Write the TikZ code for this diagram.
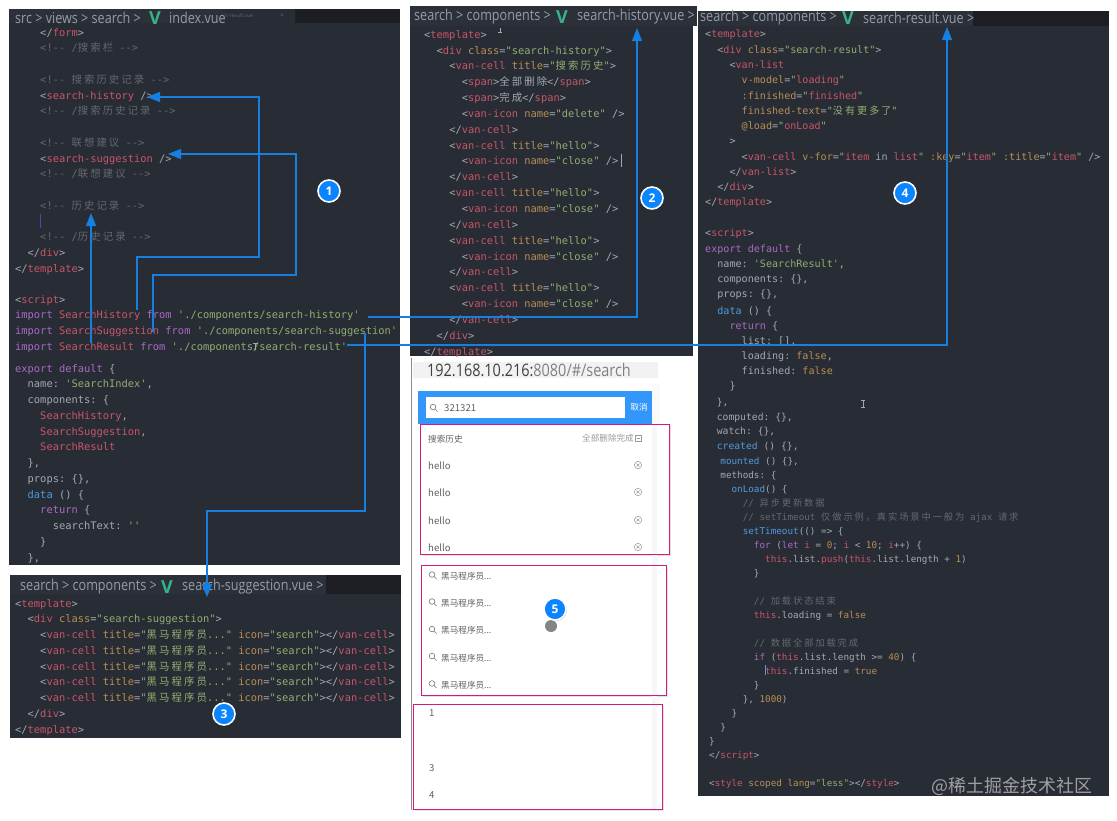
\documentclass[tikz,border=0pt]{standalone}
\usepackage{fontspec}
\usepackage{xcolor}
\usetikzlibrary{positioning,arrows.meta,shadows}

\setmainfont{Open Sans}
\newfontfamily\codefont{DejaVu Sans Mono}
\newfontfamily\barfont[FakeStretch=0.84]{Open Sans}
\newfontfamily\cjkfont[LetterSpace=20]{Noto Sans CJK SC}
\newfontfamily\uifont{Noto Sans CJK SC}

\definecolor{panelbg}{HTML}{282C34}
\definecolor{tabbg}{HTML}{2C3038}
\definecolor{tabdark}{HTML}{1C1E24}
\definecolor{codetxt}{HTML}{A3A9B3}
\definecolor{codetag}{HTML}{C9566A}
\definecolor{codestr}{HTML}{93AE72}
\definecolor{codecom}{HTML}{636872}
\definecolor{codeatt}{HTML}{B88F55}
\definecolor{codekey}{HTML}{A96BC4}
\definecolor{codefun}{HTML}{4F9BDD}
\definecolor{linkblue}{HTML}{1580E0}
\definecolor{badgeblue}{HTML}{0A84FF}
\definecolor{framepink}{HTML}{D6187F}
\definecolor{vuegreen}{HTML}{35B48A}
\definecolor{barblue}{HTML}{3296FA}

\newcommand{\ctag}[1]{\textcolor{codetag}{#1}}
\newcommand{\cstr}[1]{\textcolor{codestr}{#1}}
\newcommand{\ccom}[1]{\textcolor{codecom}{#1}}
\newcommand{\catt}[1]{\textcolor{codeatt}{#1}}
\newcommand{\ckey}[1]{\textcolor{codekey}{#1}}
\newcommand{\cfun}[1]{\textcolor{codefun}{#1}}
\newcommand{\zh}[1]{{\cjkfont #1}}
\newcommand{\ind}[1]{\hspace*{#1\fontdimen2\font}}
\newcommand{\gap}{\mbox{}}

\tikzset{
    codeblock/.style 2 args={anchor=north west, inner sep=0pt, align=left, text=codetxt,
        font=\codefont\fontsize{#1}{#2}\selectfont\frenchspacing, execute at begin node=\strut},
    crumb/.style={anchor=west, inner sep=0pt, text=codetxt!115!white, font=\barfont\fontsize{15}{15}\selectfont},
    vuelogo/.style={anchor=center, inner sep=0pt, text=vuegreen, font=\bfseries\fontsize{18}{18}\selectfont},
    link/.style={draw=linkblue, line width=1.1pt, -{Triangle[length=13pt,width=10pt]}},
    badge/.style={circle, fill=badgeblue, draw=white, line width=1.6pt, text=white, inner sep=0pt,
        minimum size=22pt, font=\bfseries\fontsize{12}{12}\selectfont},
    frame/.style={draw=framepink, line width=1pt},
    pageitem/.style={anchor=west, inner sep=0pt, text=black!62, font=\uifont\fontsize{8.6}{10}\selectfont},
    pageword/.style={pageitem, font=\uifont\fontsize{9.6}{10}\selectfont},
    searchicon/.pic={\draw[black!55, line width=.6pt] (0,0) circle (2.8pt) (2,2) -- (4.6,4.6);},
    closeicon/.pic={\draw[black!40, line width=.5pt] (0,0) circle (3.7pt) (-1.5,-1.5) -- (1.5,1.5) (-1.5,1.5) -- (1.5,-1.5);}
}

\begin{document}
\begin{tikzpicture}[x=1pt, y=-1pt]
    \useasboundingbox[fill=white] (0,0) rectangle (1117,820);

    % Panels
    \fill[panelbg] (9,9) rectangle (400,565);
    \fill[tabbg] (9,9) rectangle (225,23);
    \fill[panelbg] (225,9) rectangle (295,23);
    \fill[tabdark] (295,9) rectangle (400,23);
    \fill[panelbg] (410,6) rectangle (693,356);
    \fill[tabbg] (410,6) rectangle (697,26);
    \fill[panelbg] (10,575) rectangle (401,738);
    \fill[tabbg] (10,575) rectangle (326,594);
    \fill[tabdark] (326,575) rectangle (401,594);
    \fill[panelbg] (698,11) rectangle (1109,796);
    \fill[tabbg] (698,11) rectangle (973,26);
    \fill[tabdark] (973,11) rectangle (1109,26);

    % Breadcrumbs
    \node[crumb] (bar1a) at (15,18) {src > views > search >};
    \node[vuelogo] (bar1v) at (155,18) {V};
    \node[crumb] (bar1b) at (169,18) {index.vue};
    \node[anchor=west, inner sep=0pt, text=codecom, font=\fontsize{5}{5}\selectfont] (bar1tab) at (225,16) {h-result.vue};
    \node[anchor=center, inner sep=0pt, text=codecom, font=\fontsize{6}{6}\selectfont] (bar1x) at (282,16) {×};
    \node[crumb] (bar2a) at (414,17) {search > components >};
    \node[vuelogo] (bar2v) at (562,17) {V};
    \node[crumb] (bar2b) at (577,17) {search-history.vue >};
    \node[crumb] (bar3a) at (20,587) {search > components >};
    \node[vuelogo] (bar3v) at (167,587) {V};
    \node[crumb] (bar3b) at (182,587) {search-suggestion.vue >};
    \node[crumb] (bar4a) at (700,18) {search > components >};
    \node[vuelogo] (bar4v) at (848,18) {V};
    \node[crumb] (bar4b) at (863,18) {search-result.vue >};

    % index.vue
    \node[codeblock={10.4}{15.75}] (index1) at (15,28) {%
        \ind{4}</\ctag{form}>\\
        \ccom{\ind{4}<!-- /\zh{搜索栏} -->}\\
        \gap\\
        \ccom{\ind{4}<!-- \zh{搜索历史记录} -->}\\
        \ind{4}<\ctag{search-history} />\\
        \ccom{\ind{4}<!-- /\zh{搜索历史记录} -->}\\
        \gap\\
        \ccom{\ind{4}<!-- \zh{联想建议} -->}\\
        \ind{4}<\ctag{search-suggestion} />\\
        \ccom{\ind{4}<!-- /\zh{联想建议} -->}\\
        \gap\\
        \ccom{\ind{4}<!-- \zh{历史记录} -->}\\
        \gap\\
        \ccom{\ind{4}<!-- /\zh{历史记录} -->}\\
        \ind{2}</\ctag{div}>\\
        </\ctag{template}>};
    \node[codeblock={10.4}{15.75}] (index2) at (15,295) {%
        <\ctag{script}>\\
        \ckey{import} \ctag{SearchHistory} \ckey{from} \cstr{'./components/search-history'}\\
        \ckey{import} \ctag{SearchSuggestion} \ckey{from} \cstr{'./components/search-suggestion'}\\
        \ckey{import} \ctag{SearchResult} \ckey{from} \cstr{'./components/search-result'}};
    \node[codeblock={10.4}{15.75}] (index3) at (15,364) {%
        \ckey{export} \ckey{default} \{\\
        \ind{2}name: \cstr{'SearchIndex'},\\
        \ind{2}components: \{\\
        \ind{4}\ctag{SearchHistory},\\
        \ind{4}\ctag{SearchSuggestion},\\
        \ind{4}\ctag{SearchResult}\\
        \ind{2}\},\\
        \ind{2}props: \{\},\\
        \ind{2}\cfun{data} () \{\\
        \ind{4}\ckey{return} \{\\
        \ind{6}searchText: \cstr{''}\\
        \ind{4}\}\\
        \ind{2}\},};

    % search-history.vue
    \node[codeblock={10.4}{15.85}] (history) at (424,30) {%
        <\ctag{template}>\\
        \ind{2}<\ctag{div} \catt{class}=\cstr{"search-history"}>\\
        \ind{4}<\ctag{van-cell} \catt{title}=\cstr{"\zh{搜索历史}"}>\\
        \ind{6}<\ctag{span}>\zh{全部删除}</\ctag{span}>\\
        \ind{6}<\ctag{span}>\zh{完成}</\ctag{span}>\\
        \ind{6}<\ctag{van-icon} \catt{name}=\cstr{"delete"} />\\
        \ind{4}</\ctag{van-cell}>\\
        \ind{4}<\ctag{van-cell} \catt{title}=\cstr{"hello"}>\\
        \ind{6}<\ctag{van-icon} \catt{name}=\cstr{"close"} />\\
        \ind{4}</\ctag{van-cell}>\\
        \ind{4}<\ctag{van-cell} \catt{title}=\cstr{"hello"}>\\
        \ind{6}<\ctag{van-icon} \catt{name}=\cstr{"close"} />\\
        \ind{4}</\ctag{van-cell}>\\
        \ind{4}<\ctag{van-cell} \catt{title}=\cstr{"hello"}>\\
        \ind{6}<\ctag{van-icon} \catt{name}=\cstr{"close"} />\\
        \ind{4}</\ctag{van-cell}>\\
        \ind{4}<\ctag{van-cell} \catt{title}=\cstr{"hello"}>\\
        \ind{6}<\ctag{van-icon} \catt{name}=\cstr{"close"} />\\
        \ind{4}</\ctag{van-cell}>\\
        \ind{2}</\ctag{div}>\\
        </\ctag{template}>};

    % search-suggestion.vue
    \node[codeblock={10.4}{15.75}] (suggestion) at (15,599) {%
        <\ctag{template}>\\
        \ind{2}<\ctag{div} \catt{class}=\cstr{"search-suggestion"}>\\
        \ind{4}<\ctag{van-cell} \catt{title}=\cstr{"\zh{黑马程序员}..."} \catt{icon}=\cstr{"search"}></\ctag{van-cell}>\\
        \ind{4}<\ctag{van-cell} \catt{title}=\cstr{"\zh{黑马程序员}..."} \catt{icon}=\cstr{"search"}></\ctag{van-cell}>\\
        \ind{4}<\ctag{van-cell} \catt{title}=\cstr{"\zh{黑马程序员}..."} \catt{icon}=\cstr{"search"}></\ctag{van-cell}>\\
        \ind{4}<\ctag{van-cell} \catt{title}=\cstr{"\zh{黑马程序员}..."} \catt{icon}=\cstr{"search"}></\ctag{van-cell}>\\
        \ind{4}<\ctag{van-cell} \catt{title}=\cstr{"\zh{黑马程序员}..."} \catt{icon}=\cstr{"search"}></\ctag{van-cell}>\\
        \ind{2}</\ctag{div}>\\
        </\ctag{template}>};

    % search-result.vue
    \node[codeblock={10.1}{15.27}] (result1) at (705,30) {%
        <\ctag{template}>\\
        \ind{2}<\ctag{div} \catt{class}=\cstr{"search-result"}>\\
        \ind{4}<\ctag{van-list}\\
        \ind{6}\catt{v-model}=\cstr{"}\ctag{loading}\cstr{"}\\
        \ind{6}\catt{:finished}=\cstr{"}\ctag{finished}\cstr{"}\\
        \ind{6}\catt{finished-text}=\cstr{"\zh{没有更多了}"}\\
        \ind{6}\catt{@load}=\cstr{"}\ctag{onLoad}\cstr{"}\\
        \ind{4}>\\
        \ind{6}<\ctag{van-cell} \catt{v-for}=\cstr{"}\ctag{item} in \ctag{list}\cstr{"} \catt{:key}=\cstr{"}\ctag{item}\cstr{"} \catt{:title}=\cstr{"}\ctag{item}\cstr{"} />\\
        \ind{4}</\ctag{van-list}>\\
        \ind{2}</\ctag{div}>\\
        </\ctag{template}>};
    \node[codeblock={10.1}{15.2}] (result2) at (705,229) {%
        <\ctag{script}>\\
        \ckey{export} \ckey{default} \{\\
        \ind{2}name: \cstr{'SearchResult'},\\
        \ind{2}components: \{\},\\
        \ind{2}props: \{\},};
    \node[codeblock={10.1}{15}] (result3) at (705,307) {%
        \ind{2}\cfun{data} () \{\\
        \ind{4}\ckey{return} \{\\
        \ind{6}list: [],\\
        \ind{6}loading: \catt{false},\\
        \ind{6}finished: \catt{false}\\
        \ind{4}\}};
    \node[codeblock={9.7}{14.6}] (result4) at (705,398) {%
        \ind{2}\},\\
        \ind{2}computed: \{\},\\
        \ind{2}watch: \{\},\\
        \ind{2}\cfun{created} () \{\},};
    \node[codeblock={9.3}{14}] (result5) at (709,457) {%
        \ind{2}\cfun{mounted} () \{\},\\
        \ind{2}methods: \{\\
        \ind{4}\cfun{onLoad}() \{\\
        \ccom{\ind{6}// \zh{异步更新数据}}\\
        \ccom{\ind{6}// setTimeout \zh{仅做示例，真实场景中一般为} ajax \zh{请求}}\\
        \ind{6}\cfun{setTimeout}(() => \{\\
        \ind{8}\ckey{for} (\ckey{let} \ctag{i} = \catt{0}; \ctag{i} < \catt{10}; \ctag{i}++) \{\\
        \ind{10}\ctag{this}.list.\ctag{push}(\ctag{this}.list.length + \catt{1})\\
        \ind{8}\}\\
        \gap\\
        \ccom{\ind{8}// \zh{加载状态结束}}\\
        \ind{8}\ctag{this}.loading = \catt{false}\\
        \gap\\
        \ccom{\ind{8}// \zh{数据全部加载完成}}\\
        \ind{8}\ckey{if} (\ctag{this}.list.length >= \catt{40}) \{\\
        \ind{10}\ctag{this}.finished = \catt{true}\\
        \ind{8}\}\\
        \ind{6}\}, \catt{1000})\\
        \ind{4}\}\\
        \ind{2}\}\\
        \}\\
        </\ctag{script}>\\
        \gap\\
        <\ctag{style} \catt{scoped} \catt{lang}=\cstr{"less"}></\ctag{style}>};

    % Cursors
    \draw[blue!45!gray, line width=1pt] (40,214) -- (40,228);
    \draw[codetxt, line width=.6pt] (621,154) -- (621,167);
    \draw[codetxt, line width=.6pt] (861,400) -- (865,400) (863,400) -- (863,407) (861,407) -- (865,407);
    \draw[codefun, line width=.7pt] (765,665) -- (765,675);
    \draw[codetxt, line width=.6pt] (253,343) -- (258,343) (255.5,343) -- (255.5,350);
    \draw[codetxt, line width=.6pt] (500,28) -- (500,32) (498,32) -- (502,32);

    % Browser
    \draw[black!45, line width=.8pt] (411,358) -- (411,810);
    \fill[black!5] (413,362) rectangle (658,378);
    \begin{scope}
        \clip (411,358) rectangle (632,384);
        \node[anchor=west, inner sep=0pt, font=\barfont\fontsize{17.2}{18}\selectfont, text=black!75] (url) at (427,370) {192.168.10.216:\textcolor{black!50}{8080/\#/search}};
    \end{scope}
    \fill[black!2] (652,384) rectangle (660,810);
    \path[fill=white, drop shadow={opacity=.22, shadow xshift=1.6pt, shadow yshift=-1.6pt}] (420,424) rectangle (669,554);
    \path[fill=white, drop shadow={opacity=.22, shadow xshift=1.6pt, shadow yshift=-1.6pt}] (421,565) rectangle (666,695);
    \path[fill=white, drop shadow={opacity=.22, shadow xshift=1.6pt, shadow yshift=-1.6pt}] (413,704) rectangle (662,809);
    \fill[black!3] (652,424) rectangle (657,809);
    \fill[barblue] (418,391) rectangle (652,424);
    \node[draw=none, fill=white, anchor=north west, inner sep=0pt, minimum width=199pt, minimum height=21pt] (searchbox) at (426,397) {};
    \pic at (433,407) {searchicon};
    \node[pageword] (searchtext) at (444,408) {321321};
    \node[pageitem, text=white, right=5pt of searchbox] (cancel) {取消};

    % Page contents
    \node[pageitem] (histtitle) at (428,439) {搜索历史};
    \node[pageitem, text=black!40] (histclear) at (582,438) {全部删除完成};
    \draw[black!40, line width=.5pt] (635.5,435) rectangle (641,441) (637,438) -- (639.5,438);
    \node[pageword] (hist1) at (428,466) {hello};
    \node[pageword] (hist2) at (428,493) {hello};
    \node[pageword] (hist3) at (428,521) {hello};
    \node[pageword] (hist4) at (428,548) {hello};
    \pic at (638,465) {closeicon};
    \pic at (638,492) {closeicon};
    \pic at (638,520) {closeicon};
    \pic at (638,547) {closeicon};
    \pic at (432,574.5) {searchicon};
    \pic at (432,601.5) {searchicon};
    \pic at (432,629) {searchicon};
    \pic at (432,656) {searchicon};
    \pic at (432,683.5) {searchicon};
    \node[pageitem] (sug1) at (441,576) {黑马程序员...};
    \node[pageitem] (sug2) at (441,603) {黑马程序员...};
    \node[pageitem] (sug3) at (441,630) {黑马程序员...};
    \node[pageitem] (sug4) at (441,658) {黑马程序员...};
    \node[pageitem] (sug5) at (441,685) {黑马程序员...};
    \node[pageword] (item1) at (429,713) {1};
    \node[pageword] (item3) at (429,768) {3};
    \node[pageword] (item4) at (429,795) {4};

    % Frames
    \draw[frame] (420,424) rectangle (669,554);
    \draw[frame] (421,565) rectangle (666,695);
    \draw[frame] (413,704) rectangle (662,809);

    % Connector ends
    \coordinate (histfrom) at (137,310);
    \coordinate (histto) at (147,97);
    \coordinate (sugfrom) at (153,332);
    \coordinate (sugto) at (168,154);
    \coordinate (resfrom) at (91,343);
    \coordinate (resto) at (91,213);
    \coordinate (histfile) at (368,317);
    \coordinate (histtab) at (637,28);
    \coordinate (resfile) at (347,345);
    \coordinate (restab) at (947,27);
    \coordinate (sugfile) at (365,333);
    \coordinate (sugtab) at (207,597);

    % Connectors
    \draw[link] (histfrom) |- (259,257) |- (histto);
    \draw[link] (sugfrom) |- (296,275) |- (sugto);
    \draw[link] (resfrom) -- (resto);
    \draw[link] (histfile) -| (histtab);
    \draw[link] (resfile) -| (restab);
    \draw[link] (sugfile) |- (207,511) -- (sugtab);

    % Badges
    \node[badge] (one) at (329,191) {1};
    \node[badge] (two) at (652,198) {2};
    \node[badge] (three) at (224,714) {3};
    \node[badge] (four) at (905,193) {4};
    \fill[black!48] (551,626) circle (6pt);
    \node[badge, drop shadow={opacity=.4, shadow xshift=1pt, shadow yshift=-1pt}] (five) at (555,609) {5};

    % Watermark
    \node[anchor=center, inner sep=0pt, text=white, opacity=.55, font=\uifont\fontsize{17.9}{18}\selectfont] (mark) at (1012,786) {@稀土掘金技术社区};
\end{tikzpicture}
\end{document}
